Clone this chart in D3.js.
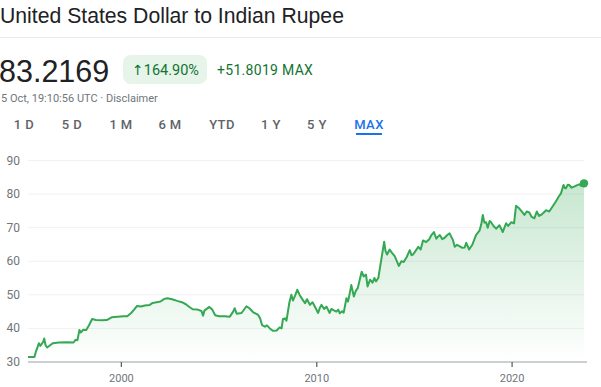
<!DOCTYPE html>
<html>
<head>
<meta charset="utf-8">
<script src="https://cdn.jsdelivr.net/npm/d3@7"></script>
<style>
  body { margin: 0; background: #fff; }
  svg { display: block; font-family: Roboto, Arial, sans-serif; }
</style>
</head>
<body>
<svg width="601" height="387"></svg>
<script>
// USD -> INR (decimal year, rate)
const years = [1995.22, 1995.55, 1995.62, 1995.70, 1995.78, 1995.85, 1996.00, 1996.05, 1996.12, 1996.20,
  1996.35, 1996.50, 1996.80, 1997.20, 1997.55, 1997.65, 1997.75, 1997.85, 1997.92, 1998.05,
  1998.20, 1998.35, 1998.50, 1998.70, 1999.00, 1999.25, 1999.50, 1999.80, 2000.10, 2000.30,
  2000.50, 2000.65, 2000.80, 2001.00, 2001.20, 2001.45, 2001.60, 2001.80, 2002.00, 2002.20,
  2002.35, 2002.60, 2002.85, 2003.10, 2003.30, 2003.50, 2003.65, 2003.90, 2004.10, 2004.18,
  2004.25, 2004.50, 2004.65, 2004.80, 2005.00, 2005.30, 2005.55, 2005.72, 2005.80, 2005.90,
  2006.15, 2006.40, 2006.55, 2006.75, 2007.00, 2007.10, 2007.20, 2007.35, 2007.45, 2007.60,
  2007.75, 2007.95, 2008.10, 2008.20, 2008.27, 2008.38, 2008.45, 2008.60, 2008.70, 2008.78,
  2008.88, 2009.00, 2009.13, 2009.25, 2009.40, 2009.50, 2009.65, 2009.78, 2009.90, 2010.07,
  2010.15, 2010.24, 2010.38, 2010.50, 2010.66, 2010.75, 2010.83, 2011.00, 2011.10, 2011.18,
  2011.30, 2011.38, 2011.52, 2011.60, 2011.69, 2011.77, 2011.90, 2012.00, 2012.10, 2012.20,
  2012.30, 2012.40, 2012.52, 2012.60, 2012.73, 2012.85, 2012.95, 2013.03, 2013.15, 2013.30,
  2013.45, 2013.52, 2013.60, 2013.73, 2013.85, 2013.99, 2014.20, 2014.33, 2014.45, 2014.60,
  2014.76, 2014.85, 2014.93, 2015.05, 2015.20, 2015.32, 2015.44, 2015.60, 2015.75, 2015.87,
  2016.00, 2016.12, 2016.20, 2016.30, 2016.42, 2016.55, 2016.68, 2016.80, 2016.97, 2017.06,
  2017.18, 2017.30, 2017.45, 2017.57, 2017.65, 2017.80, 2017.97, 2018.15, 2018.33, 2018.42,
  2018.50, 2018.58, 2018.67, 2018.75, 2018.85, 2018.92, 2019.05, 2019.18, 2019.35, 2019.45,
  2019.52, 2019.69, 2019.80, 2019.95, 2020.10, 2020.20, 2020.37, 2020.50, 2020.63, 2020.75,
  2020.88, 2021.00, 2021.14, 2021.26, 2021.38, 2021.48, 2021.62, 2021.74, 2021.90, 2022.07,
  2022.24, 2022.38, 2022.50, 2022.63, 2022.70, 2022.75, 2022.85, 2022.92, 2023.05, 2023.17,
  2023.30, 2023.43, 2023.55, 2023.68];
const rates = [31.5, 31.5, 33.0, 34.3, 35.6, 34.8, 36.0, 37.0, 35.0, 34.3,
  35.0, 35.6, 35.8, 35.9, 35.8, 36.6, 36.5, 39.5, 38.8, 39.6,
  39.5, 41.0, 42.8, 42.5, 42.4, 42.5, 43.3, 43.5, 43.6, 43.6,
  44.6, 45.6, 46.7, 46.5, 46.8, 47.0, 47.6, 47.8, 48.0, 48.8,
  49.0, 48.7, 48.2, 47.8, 47.2, 46.3, 45.7, 45.6, 45.2, 43.8,
  45.3, 46.4, 45.6, 43.9, 43.6, 43.6, 43.5, 45.0, 46.0, 44.4,
  44.6, 46.6, 46.0, 44.8, 44.0, 43.0, 41.0, 40.5, 40.9, 40.0,
  39.3, 39.4, 40.3, 40.0, 42.8, 43.0, 42.3, 47.8, 50.0, 48.3,
  49.6, 51.5, 49.9, 48.8, 47.5, 48.7, 47.0, 47.8, 46.5, 44.6,
  46.0, 47.0, 45.8, 46.5, 44.6, 45.8, 45.5, 45.0, 45.6, 44.5,
  45.1, 44.7, 49.0, 48.0, 50.5, 52.9, 49.5, 51.2, 52.0, 54.5,
  56.9, 55.5, 56.0, 52.5, 54.5, 53.6, 55.0, 54.0, 55.0, 60.4,
  65.8, 63.0, 62.0, 63.5, 62.5, 61.5, 58.6, 60.0, 59.8, 61.2,
  63.3, 61.8, 62.0, 63.0, 64.3, 63.5, 66.2, 65.7, 66.5, 67.8,
  68.7, 66.7, 67.3, 67.8, 66.6, 67.0, 67.8, 68.3, 66.3, 64.3,
  64.9, 64.5, 64.0, 64.1, 65.5, 63.5, 65.0, 67.8, 69.1, 71.0,
  73.8, 71.5, 71.6, 70.0, 72.0, 71.6, 70.5, 69.7, 70.7, 69.6,
  68.7, 71.3, 70.5, 71.6, 71.3, 76.5, 75.7, 74.8, 73.8, 74.8,
  74.5, 73.2, 72.8, 74.8, 73.5, 73.8, 74.5, 75.2, 74.8, 76.3,
  77.8, 79.2, 80.2, 82.7, 81.8, 81.7, 82.8, 82.7, 81.9, 82.2,
  82.6, 82.9, 82.4, 83.2];
const yTicks = [30, 40, 50, 60, 70, 80, 90];
const xTickYears = [2000, 2010, 2020];
const tabs = ["1 D", "5 D", "1 M", "6 M", "YTD", "1 Y", "5 Y", "MAX"];

const toDate = y => {
  const yr = Math.floor(y);
  const a = Date.UTC(yr, 0, 1), b = Date.UTC(yr + 1, 0, 1);
  return new Date(a + (y - yr) * (b - a));
};
const data = years.map((y, i) => ({ date: toDate(y), value: rates[i] }));

const svg = d3.select("svg");

// ---- header ----
svg.append("text").attr("x", 0).attr("y", 23)
   .attr("font-family", "Arial, 'Liberation Sans', sans-serif")
   .attr("font-size", 21.2).attr("fill", "#202124")
   .text("United States Dollar to Indian Rupee");
svg.append("line").attr("x1", 0).attr("x2", 601).attr("y1", 37.5).attr("y2", 37.5)
   .attr("stroke", "#ebebeb");

svg.append("text").attr("x", -1).attr("y", 82)
   .attr("font-family", "Arial, 'Liberation Sans', sans-serif")
   .attr("font-size", 30.5).attr("fill", "#202124")
   .text("83.2169");

svg.append("rect").attr("x", 123).attr("y", 55).attr("width", 84).attr("height", 29)
   .attr("rx", 8).attr("fill", "#e6f4ea");
const badge = svg.append("text").attr("x", 132).attr("y", 75)
   .attr("font-size", 14.5).attr("fill", "#137333");
badge.append("tspan").attr("font-family", "'DejaVu Sans', sans-serif").attr("font-size", 14)
   .text("\u2191");
badge.append("tspan").text("164.90%");
svg.append("text").attr("x", 217).attr("y", 74.5)
   .attr("font-size", 14).attr("letter-spacing", 0.3).attr("fill", "#137333")
   .text("+51.8019 MAX");

svg.append("text").attr("x", 1).attr("y", 102)
   .attr("font-size", 11).attr("fill", "#70757a")
   .text("5 Oct, 19:10:56 UTC \u00b7 Disclaimer");

const tabX = [24, 72, 121, 170, 222, 271, 317, 369];
svg.append("g").selectAll("text").data(tabs).join("text")
   .attr("x", (d, i) => tabX[i]).attr("y", 129)
   .attr("text-anchor", "middle").attr("font-size", 13).attr("font-weight", 500)
   .attr("letter-spacing", 0.4)
   .attr("fill", d => d === "MAX" ? "#1a73e8" : "#5f6368")
   .text(d => d);
svg.append("rect").attr("x", 356).attr("y", 133).attr("width", 26).attr("height", 2)
   .attr("fill", "#1a73e8");

// ---- chart ----
const x = d3.scaleTime()
  .domain([data[0].date, data[data.length - 1].date])
  .range([28, 584]);
const y = d3.scaleLinear().domain([30, 90]).range([362, 160.5]);

svg.append("g").selectAll("line").data(yTicks.slice(1)).join("line")
   .attr("x1", 28).attr("x2", 584)
   .attr("y1", d => y(d)).attr("y2", d => y(d))
   .attr("stroke", "#f1f1f1");

svg.append("g").selectAll("text").data(yTicks).join("text")
   .attr("x", 20).attr("y", d => y(d) + 4)
   .attr("text-anchor", "end").attr("font-size", 12).attr("fill", "#70757a")
   .text(d => d);

const defs = svg.append("defs");
const grad = defs.append("linearGradient").attr("id", "fillGrad")
   .attr("gradientUnits", "userSpaceOnUse")
   .attr("x1", 0).attr("x2", 0).attr("y1", y(84)).attr("y2", y(30));
grad.append("stop").attr("offset", 0).attr("stop-color", "#34a853").attr("stop-opacity", 0.28);
grad.append("stop").attr("offset", 1).attr("stop-color", "#34a853").attr("stop-opacity", 0);

svg.append("path").datum(data)
   .attr("fill", "url(#fillGrad)")
   .attr("d", d3.area().x(d => x(d.date)).y0(y(30)).y1(d => y(d.value)));

svg.append("path").datum(data)
   .attr("fill", "none").attr("stroke", "#34a853").attr("stroke-width", 2)
   .attr("stroke-linejoin", "round")
   .attr("d", d3.line().x(d => x(d.date)).y(d => y(d.value)));

const last = data[data.length - 1];
svg.append("circle").attr("cx", x(last.date)).attr("cy", y(last.value)).attr("r", 4.2)
   .attr("fill", "#34a853");

// x axis
svg.append("line").attr("x1", 28).attr("x2", 587).attr("y1", y(30)).attr("y2", y(30))
   .attr("stroke", "#9aa0a6");
const xt = svg.append("g").selectAll("g").data(xTickYears).join("g")
   .attr("transform", d => `translate(${x(toDate(d))},${y(30)})`);
xt.append("line").attr("y1", 0).attr("y2", 5).attr("stroke", "#5f6368").attr("stroke-width", 1.3);
xt.append("text").attr("y", 20).attr("text-anchor", "middle")
   .attr("font-size", 11).attr("fill", "#70757a").text(d => d);
</script>
</body>
</html>
